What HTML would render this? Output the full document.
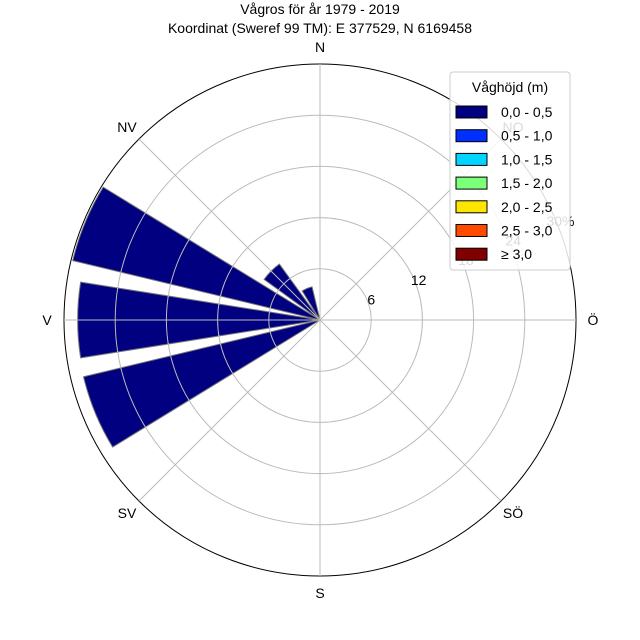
<!DOCTYPE html>
<html><head><meta charset="utf-8"><style>
body{margin:0;background:#fff}
svg{display:block;font-family:"Liberation Sans",sans-serif}
</style></head><body>
<svg id="chart" width="640" height="640" viewBox="0 0 640 640">
<text x="320" y="14" text-anchor="middle" font-size="14">Vågros för år 1979 - 2019</text>
<text x="320" y="33" text-anchor="middle" font-size="14">Koordinat (Sweref 99 TM): E 377529, N 6169458</text>
<g id="bars"></g>
<g id="grid"></g>
<g id="legend"></g>
</svg>
<script>
const directions=["N","NNO","NO","ONO","Ö","OSO","SO","SSO","S","SSV","SV","VSV","V","VNV","NV","NNV"];
const values=[0,0,0,0,0,0,0,0,0,0,0,28.5,28.4,29.8,8.1,4.0];
const rTicks=[6,12,18,24,30];
const rTickLabels=["6","12","18","24","30%"];
const compassLabels=["N","NO","Ö","SÖ","S","SV","V","NV"];
const legendLabels=["0,0 - 0,5","0,5 - 1,0","1,0 - 1,5","1,5 - 2,0","2,0 - 2,5","2,5 - 3,0","≥ 3,0"];
const legendColors=["#000080","#0030ff","#00d4ff","#7cff79","#ffe600","#ff4a00","#800000"];
const NS="http://www.w3.org/2000/svg";
const cx=320,cy=320,R=256,rMax=30;
function rs(v){return v/rMax*R;}
function pt(deg,r){const a=deg*Math.PI/180;return [cx+r*Math.sin(a),cy-r*Math.cos(a)];}
function mk(t,attrs,parent){const e=document.createElementNS(NS,t);for(const k in attrs)e.setAttribute(k,attrs[k]);parent.appendChild(e);return e;}
const bars=document.getElementById('bars'),grid=document.getElementById('grid'),leg=document.getElementById('legend');
values.forEach((v,i)=>{if(v<=0)return;const c=i*22.5,h=9,r=rs(v);
const a=pt(c-h,r),b=pt(c+h,r);
const p=mk('path',{d:`M${cx},${cy}L${a[0]},${a[1]}A${r},${r} 0 0 1 ${b[0]},${b[1]}Z`,fill:legendColors[0],stroke:'#777','stroke-width':1},bars);

});
rTicks.forEach((t,i)=>{const c=mk('circle',{cx:cx,cy:cy,r:rs(t),fill:'none',stroke:i==rTicks.length-1?'#000':'#bbb','stroke-width':1},grid);


const p=pt(67.5,rs(t));const tx=mk('text',{x:p[0]+4,y:p[1]+4,'font-size':14,'text-anchor':'middle'},grid);tx.textContent=rTickLabels[i];

});
compassLabels.forEach((l,i)=>{const d=i*45;const e=pt(d,R);
const ln=mk('line',{x1:cx,y1:cy,x2:e[0],y2:e[1],stroke:'#bbb','stroke-width':1},grid);


const p=pt(d,R+17);const tx=mk('text',{x:p[0],y:p[1]+5,'font-size':14,'text-anchor':'middle'},grid);tx.textContent=l;

});
const box=mk('rect',{x:450,y:72,width:120,height:198,rx:3,fill:'#fff','fill-opacity':0.85,stroke:'#ccc'},leg);


const lt=mk('text',{x:510,y:92,'font-size':14,'text-anchor':'middle'},leg);lt.textContent='Våghöjd (m)';


legendLabels.forEach((l,i)=>{const y=112+i*23.7;
const s=mk('rect',{x:456,y:y-6,width:31,height:12,fill:legendColors[i],stroke:'#000'},leg);


const tx=mk('text',{x:501,y:y+5,'font-size':14},leg);tx.textContent=l;

});
</script>
</body></html>
